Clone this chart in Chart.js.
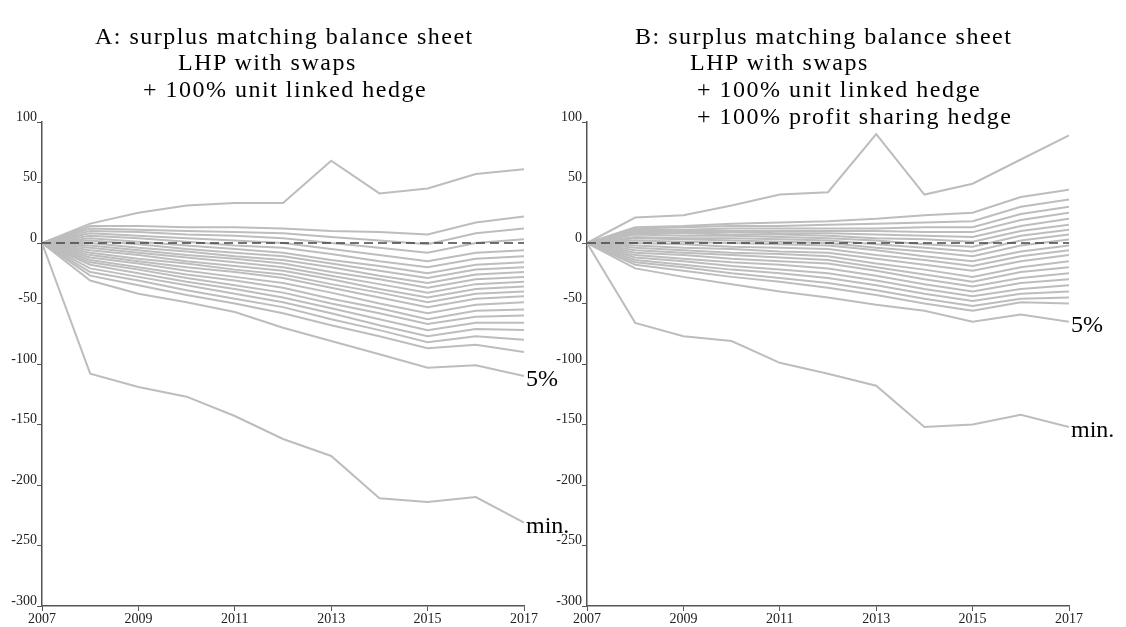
<!DOCTYPE html>
<html>
<head>
<meta charset="utf-8">
<script src="https://cdn.jsdelivr.net/npm/chart.js@4.4.0/dist/chart.umd.min.js"></script>
<style>
  body { margin: 0; background: #fff; width: 1126px; height: 627px; overflow: hidden; position: relative; }
  .box { position: absolute; top: 0; width: 580px; height: 627px; }
  #boxA { left: 0; }
  #boxB { left: 545px; }
  .t { position: absolute; font-family: 'Liberation Serif', serif; font-size: 24px; line-height: 24px; color: #000; white-space: pre; letter-spacing: 1.5px; }
</style>
</head>
<body>
<div class="box" id="boxA"><canvas id="chartA" width="580" height="627"></canvas></div>
<div class="box" id="boxB"><canvas id="chartB" width="580" height="627"></canvas></div>

<div class="t" style="left:95px; top:24px;">A: surplus matching balance sheet</div>
<div class="t" style="left:178px; top:50px;">LHP with swaps</div>
<div class="t" style="left:143px; top:77px;">+ 100% unit linked hedge</div>

<div class="t" style="left:635px; top:24px;">B: surplus matching balance sheet</div>
<div class="t" style="left:690px; top:50px;">LHP with swaps</div>
<div class="t" style="left:697px; top:77px;">+ 100% unit linked hedge</div>
<div class="t" style="left:697px; top:104px;">+ 100% profit sharing hedge</div>

<script>
const years = [2007, 2008, 2009, 2010, 2011, 2012, 2013, 2014, 2015, 2016, 2017];

// panel A
const aMax = [0, 16, 25, 31, 33, 33, 68, 41, 45, 57, 61];
const aMin = [0, -108, -119, -127, -143, -162, -176, -211, -214, -210, -231];
const aP5  = [0, -31, -42, -49, -57, -70, -81, -92, -103, -101, -110];
const aBand = [
  [0, 14, 14, 13, 13, 12, 10, 9, 7, 17, 22],
  [0, 12, 11, 10, 9, 8, 5, 2, -1, 8, 12],
  [0, 10, 9, 7, 6, 4, 0, -4, -8, 0, 3],
  [0, 8, 6, 4, 2, 0, -5, -10, -15, -8, -6],
  [0, 6, 4, 1, -2, -4, -9, -15, -20, -13, -11],
  [0, 4, 1, -2, -5, -8, -14, -19, -25, -18, -16],
  [0, 2, -1, -5, -8, -11, -17, -23, -29, -22, -20],
  [0, 0, -4, -7, -11, -14, -20, -27, -33, -26, -24],
  [0, -2, -6, -10, -13, -17, -24, -30, -37, -30, -28],
  [0, -4, -8, -12, -16, -20, -27, -34, -41, -34, -32],
  [0, -6, -10, -15, -19, -23, -30, -38, -45, -38, -36],
  [0, -8, -13, -17, -22, -26, -34, -41, -49, -42, -40],
  [0, -10, -15, -20, -24, -29, -37, -45, -53, -46, -44],
  [0, -12, -17, -23, -28, -33, -41, -50, -58, -51, -49],
  [0, -14, -20, -26, -31, -37, -46, -54, -63, -56, -55],
  [0, -16, -22, -29, -35, -41, -50, -58, -67, -61, -60],
  [0, -18, -25, -32, -38, -45, -54, -63, -72, -66, -66],
  [0, -21, -28, -35, -42, -49, -58, -68, -77, -71, -72],
  [0, -24, -31, -39, -46, -53, -63, -72, -82, -77, -80],
  [0, -27, -35, -43, -50, -58, -68, -77, -87, -84, -90]
];

// panel B
const bMax = [0, 21, 23, 31, 40, 42, 90, 40, 49, 69, 89];
const bMin = [0, -66, -77, -81, -99, -108, -118, -152, -150, -142, -152];
const bP5  = [0, -21, -28, -34, -40, -45, -51, -56, -65, -59, -65];
const bBand = [
  [0, 13, 14, 16, 17, 18, 20, 23, 25, 38, 44],
  [0, 12, 13, 14, 14, 15, 16, 17, 18, 30, 36],
  [0, 11, 11, 12, 12, 12, 12, 13, 13, 24, 30],
  [0, 10, 10, 10, 10, 10, 10, 9, 9, 19, 25],
  [0, 9, 9, 9, 8, 8, 7, 6, 5, 14, 20],
  [0, 8, 8, 7, 7, 6, 4, 3, 1, 10, 15],
  [0, 7, 6, 6, 5, 4, 2, -1, -3, 6, 11],
  [0, 5, 4, 4, 3, 2, -1, -4, -7, 2, 7],
  [0, 4, 3, 2, 1, 0, -4, -7, -11, -2, 3],
  [0, 2, 1, 0, -1, -2, -6, -11, -15, -7, -2],
  [0, 0, -1, -3, -4, -5, -10, -14, -19, -11, -6],
  [0, -2, -4, -5, -7, -8, -13, -18, -23, -15, -10],
  [0, -4, -6, -8, -9, -11, -17, -22, -28, -20, -15],
  [0, -6, -8, -10, -12, -14, -20, -26, -32, -24, -20],
  [0, -8, -10, -13, -15, -17, -23, -30, -36, -29, -25],
  [0, -10, -13, -16, -18, -21, -27, -34, -40, -33, -30],
  [0, -12, -15, -19, -22, -25, -31, -38, -44, -38, -35],
  [0, -14, -18, -22, -25, -29, -35, -42, -48, -42, -40],
  [0, -16, -20, -25, -29, -33, -39, -46, -52, -46, -45],
  [0, -18, -23, -28, -32, -37, -43, -50, -56, -49, -50]
];

const yTicks = [100, 50, 0, -50, -100, -150, -200, -250, -300];
const xTicks = [2007, 2009, 2011, 2013, 2015, 2017];

const lineGrey = '#bdbdbd';
const axisGrey = '#555';

function pts(vals) {
  return vals.map((v, i) => ({ x: years[i], y: v }));
}

function grey(vals, label) {
  return {
    data: pts(vals),
    borderColor: lineGrey,
    borderWidth: 2,
    pointRadius: 0,
    tension: 0,
    endLabel: label || null
  };
}

// "5%" and "min." written at the end of their lines
const endLabels = {
  id: 'endLabels',
  afterDatasetsDraw(chart) {
    const ctx = chart.ctx;
    ctx.save();
    ctx.font = '24px "Liberation Serif"';
    ctx.fillStyle = '#000';
    ctx.textBaseline = 'middle';
    chart.data.datasets.forEach((ds, i) => {
      if (!ds.endLabel) return;
      const els = chart.getDatasetMeta(i).data;
      const p = els[els.length - 1];
      ctx.fillText(ds.endLabel, p.x + 2, p.y + 4);
    });
    ctx.restore();
  }
};

function makeChart(id, maxV, minV, p5, band) {
  const sets = [];
  // zero line first so it is drawn on top
  sets.push({
    data: [{ x: years[0], y: 0 }, { x: years[years.length - 1], y: 0 }],
    borderColor: '#444',
    borderWidth: 1.5,
    borderDash: [9, 5],
    pointRadius: 0
  });
  sets.push(grey(maxV));
  band.forEach(b => sets.push(grey(b)));
  sets.push(grey(p5, '5%'));
  sets.push(grey(minV, 'min.'));

  return new Chart(document.getElementById(id), {
    type: 'line',
    data: { datasets: sets },
    plugins: [endLabels],
    options: {
      responsive: false,
      animation: false,
      layout: { padding: { top: 122, right: 56, bottom: 0, left: 0 } },
      plugins: { legend: { display: false }, tooltip: { enabled: false }, title: { display: false } },
      scales: {
        x: {
          type: 'linear',
          min: 2007,
          max: 2017,
          afterBuildTicks: s => { s.ticks = xTicks.map(v => ({ value: v })); },
          afterFit: s => { s.height = 21; },
          grid: { drawOnChartArea: false, drawTicks: true, tickLength: 5, color: axisGrey },
          border: { color: axisGrey, width: 1.5 },
          ticks: {
            padding: 0,
            maxRotation: 0,
            color: '#222',
            font: { family: 'Liberation Serif', size: 14 },
            callback: v => String(v)
          }
        },
        y: {
          min: -300,
          max: 100,
          afterBuildTicks: s => { s.ticks = yTicks.map(v => ({ value: v })); },
          afterFit: s => { s.width = 42; },
          grid: { drawOnChartArea: false, drawTicks: true, tickLength: 5, color: axisGrey },
          border: { color: axisGrey, width: 1.5 },
          ticks: {
            padding: 0,
            labelOffset: -5,
            color: '#222',
            font: { family: 'Liberation Serif', size: 14 },
            callback: v => String(v)
          }
        }
      }
    }
  });
}

makeChart('chartA', aMax, aMin, aP5, aBand);
makeChart('chartB', bMax, bMin, bP5, bBand);
</script>
</body>
</html>
